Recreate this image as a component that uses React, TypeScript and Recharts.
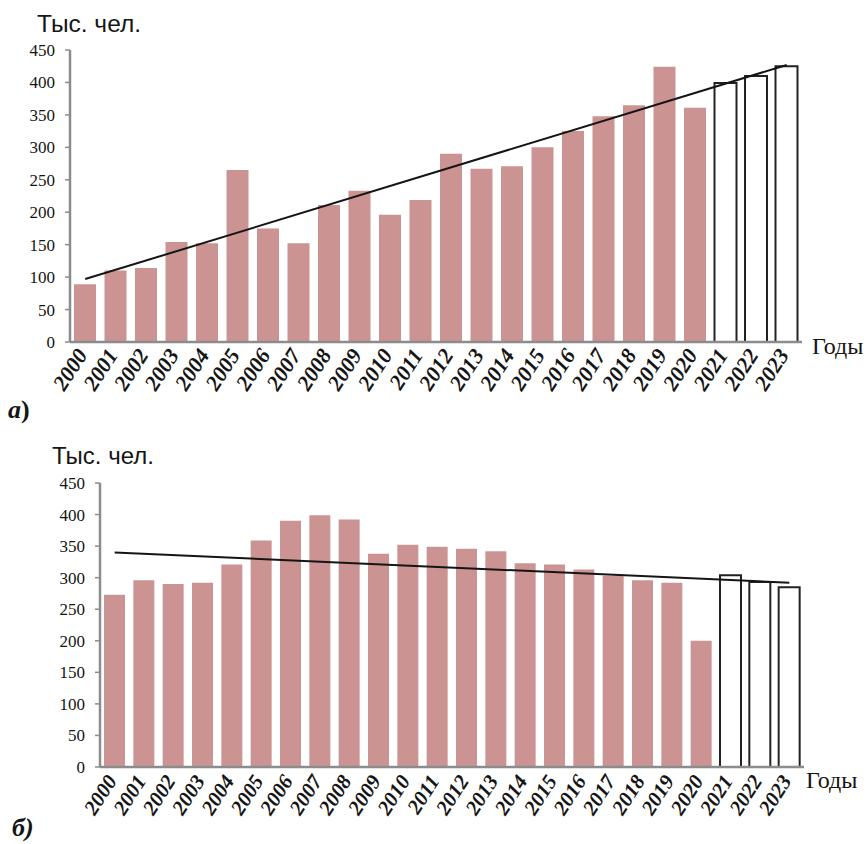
import React from "react";
import { BarChart, Bar, Cell, XAxis, YAxis, ReferenceLine } from "recharts";

// Annual values, thousand people. 2021–2023 are the forecast (outlined) bars.
const years = [
  "2000", "2001", "2002", "2003", "2004", "2005", "2006", "2007",
  "2008", "2009", "2010", "2011", "2012", "2013", "2014", "2015",
  "2016", "2017", "2018", "2019", "2020", "2021", "2022", "2023",
];
const forecastYears = ["2021", "2022", "2023"];

const valuesA = [
  89, 110, 114, 154, 152, 265, 175, 152, 211, 233, 196, 219,
  290, 267, 271, 300, 325, 348, 365, 424, 361, 399, 410, 425,
];
// trend line values at the first and last year
const trendA = [97, 427];

const valuesB = [
  273, 296, 290, 292, 321, 359, 390, 399, 392, 338, 352, 349,
  346, 342, 323, 321, 313, 303, 296, 292, 200, 304, 293, 285,
];
const trendB = [340, 292];

const yTicks = [0, 50, 100, 150, 200, 250, 300, 350, 400, 450];

const BAR_FILL = "#cc9393";
const AXIS = "#8c8c8c";
const INK = "#151515";
const SERIF = "'Liberation Serif', 'Times New Roman', serif";
const SANS = "'Liberation Sans', Arial, sans-serif";

function YearTick(props: any) {
  const { x, y, payload, angle, size, dx, dy } = props;
  const tx = x + dx;
  const ty = y + dy;
  return (
    <text
      x={tx}
      y={ty}
      transform={`rotate(${angle}, ${tx}, ${ty})`}
      textAnchor="end"
      fontFamily={SERIF}
      fontWeight="bold"
      fontStyle="italic"
      fontSize={size}
      fill={INK}
    >
      {payload.value}
    </text>
  );
}

interface PanelProps {
  values: number[];
  trend: number[];
  height: number;
  top: number;
  right: number;
  axisWidth: number;
  xAxisHeight: number;
  barSize: number;
  tickAngle: number;
  tickSize: number;
  tickDy: number;
}

function Panel(p: PanelProps) {
  const rows = years.map((year, i) => ({ year, value: p.values[i] }));
  return (
    <BarChart
      width={868}
      height={p.height}
      data={rows}
      margin={{ top: p.top, right: p.right, bottom: 0, left: 0 }}
      barSize={p.barSize}
    >
      <XAxis
        dataKey="year"
        interval={0}
        height={p.xAxisHeight}
        axisLine={{ stroke: AXIS, strokeWidth: 2.5 }}
        tickLine={false}
        tickSize={0}
        tickMargin={0}
        tick={
          <YearTick
            angle={p.tickAngle}
            size={p.tickSize}
            dx={3}
            dy={p.tickDy}
          />
        }
      />
      <YAxis
        domain={[0, 450]}
        ticks={yTicks}
        interval={0}
        width={p.axisWidth}
        axisLine={{ stroke: AXIS, strokeWidth: 2.5 }}
        tickLine={{ stroke: AXIS, strokeWidth: 1.5 }}
        tickSize={5}
        tickMargin={10}
        tick={{ fontFamily: SERIF, fontSize: 17, fill: INK }}
      />
      <Bar dataKey="value" isAnimationActive={false}>
        {rows.map((r) =>
          forecastYears.includes(r.year) ? (
            <Cell key={r.year} fill="#ffffff" stroke="#222" strokeWidth={2} />
          ) : (
            <Cell key={r.year} fill={BAR_FILL} />
          )
        )}
      </Bar>
      <ReferenceLine
        segment={[
          { x: years[0], y: p.trend[0] },
          { x: years[years.length - 1], y: p.trend[1] },
        ]}
        stroke={INK}
        strokeWidth={2}
        ifOverflow="visible"
      />
    </BarChart>
  );
}

export default function App() {
  return (
    <div
      style={{
        position: "absolute",
        left: 0,
        top: 0,
        width: 868,
        height: 844,
        background: "#fff",
      }}
    >
      <div style={{ position: "absolute", left: 0, top: 0 }}>
        <Panel
          values={valuesA}
          trend={trendA}
          height={420}
          top={50}
          right={66}
          axisWidth={70}
          xAxisHeight={78}
          barSize={22}
          tickAngle={-57}
          tickSize={22}
          tickDy={13}
        />
      </div>
      <div style={{ position: "absolute", left: 0, top: 420 }}>
        <Panel
          values={valuesB}
          trend={trendB}
          height={424}
          top={63}
          right={64}
          axisWidth={100}
          xAxisHeight={77}
          barSize={21}
          tickAngle={-57}
          tickSize={21}
          tickDy={14}
        />
      </div>
      <svg
        width={868}
        height={844}
        style={{ position: "absolute", left: 0, top: 0, pointerEvents: "none" }}
      >
        <text x={37} y={32} fontFamily={SANS} fontSize={24.5} fill={INK}>
          Тыс. чел.
        </text>
        <text x={812} y={354} fontFamily={SERIF} fontSize={24} fill={INK}>
          Годы
        </text>
        <text x={8} y={418} fontFamily={SERIF} fontSize={26} fill={INK} fontWeight="bold">
          <tspan fontStyle="italic">а</tspan>)
        </text>
        <text x={52} y={464} fontFamily={SANS} fontSize={24} fill={INK}>
          Тыс. чел.
        </text>
        <text x={806} y={788} fontFamily={SERIF} fontSize={24} fill={INK}>
          Годы
        </text>
        <text
          x={12}
          y={836}
          fontFamily={SERIF}
          fontSize={26}
          fill={INK}
          fontWeight="bold"
          fontStyle="italic"
        >
          б)
        </text>
      </svg>
    </div>
  );
}
